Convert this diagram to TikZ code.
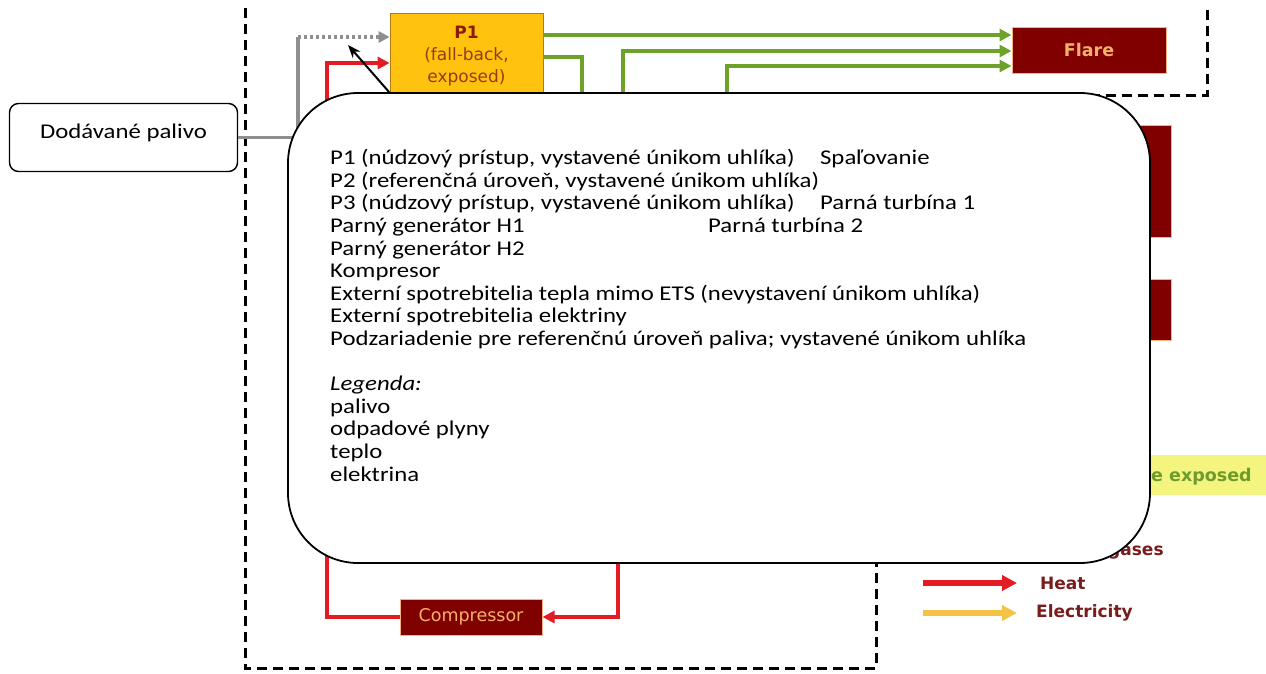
\documentclass[tikz,border=0pt]{standalone}
\usepackage{fontspec}
\setmainfont{Carlito}
\newfontfamily\notefont{Carlito}[FakeStretch=1.18]
\newfontfamily\flowfont{DejaVu Sans}
\usetikzlibrary{arrows.meta,calc}

\definecolor{flowgreen}{HTML}{6FA22B}
\definecolor{flowred}{HTML}{E31B23}
\definecolor{flowgray}{HTML}{8E8E8E}
\definecolor{flowyellow}{HTML}{F4C247}
\definecolor{boxred}{HTML}{800000}
\definecolor{boxedge}{HTML}{F4B183}
\definecolor{boxtxt}{HTML}{F6B26B}
\definecolor{p1fill}{HTML}{FFC20E}
\definecolor{p1edge}{HTML}{B07A10}
\definecolor{p1dark}{HTML}{8B1A0A}
\definecolor{p1txt}{HTML}{9A3A14}
\definecolor{legtxt}{HTML}{7A1C1C}
\definecolor{hilite}{HTML}{F4F57E}
\definecolor{expgreen}{HTML}{6E9B2E}

\tikzset{
  bound/.style={line width=3pt, dash pattern=on 10pt off 6pt},
  unitbox/.style={draw=boxedge, line width=1pt, fill=boxred, text=boxtxt,
    font=\flowfont\fontsize{17.5}{20}\selectfont, inner sep=0pt},
  p1box/.style={draw=p1edge, line width=0.8pt, fill=p1fill, text=p1txt,
    font=\flowfont\fontsize{17}{22}\selectfont, align=center, inner sep=0pt},
  gline/.style={draw=flowgreen, line width=4.5pt},
  garrow/.style={gline, -{Triangle[length=12pt,width=12pt]}},
  rline/.style={draw=flowred, line width=4.5pt},
  rarrow/.style={rline, -{Triangle[length=12pt,width=12pt]}},
  fuelline/.style={draw=flowgray, line width=3.2pt},
  fueldot/.style={draw=flowgray, line width=3.2pt, dash pattern=on 3pt off 3pt,
    -{Triangle[length=11pt,width=11pt]}},
  legarrow/.style={line width=5.5pt, -{Triangle[length=15pt,width=15pt]}},
  legtext/.style={text=legtxt, font=\flowfont\bfseries\fontsize{17}{20}\selectfont,
    anchor=west, inner sep=0pt},
  notebox/.style={draw=black, line width=1.8pt, fill=white, rounded corners=70pt},
  notetext/.style={font=\notefont\fontsize{21}{22.6}\selectfont, align=left, inner sep=0pt},
  pointer/.style={draw=black, line width=2pt, -{Stealth[length=13pt,width=10pt]}},
  fuelbox/.style={draw=black, line width=1.4pt, fill=white, rounded corners=9pt,
    font=\notefont\fontsize{21}{22.6}\selectfont, text height=16pt, text depth=15pt,
    inner sep=0pt}
}

\begin{document}
\begin{tikzpicture}[x=1pt,y=-1pt]
\useasboundingbox (0,0) rectangle (1266,673);

% levels of the horizontal flows
\coordinate (y35) at (0,35);
\coordinate (y37) at (0,37);
\coordinate (y51) at (0,51);
\coordinate (y57) at (0,57);
\coordinate (y63) at (0,63);
\coordinate (y66) at (0,66);

% system boundaries
\draw[bound] (245,8) -- (245,668) -- (876,668) -- (876,540);
\draw[bound] (1207,10) -- (1207,95) -- (1060,95);

% units
\node[p1box, minimum width=153pt, minimum height=86pt] (p1) at (466.5,56)
  {\textbf{\color{p1dark}P1}\\(fall-back,\\exposed)};
\node[unitbox, minimum width=154pt, minimum height=46pt] (flare) at (1089,50)
  {\bfseries Flare};
\node[unitbox, minimum width=91pt, minimum height=112pt] (sinkA) at (1125.5,181) {};
\node[unitbox, minimum width=91pt, minimum height=61pt] (sinkB) at (1125.5,309.5) {};
\node[unitbox, minimum width=142pt, minimum height=36pt] (comp) at (471,617)
  {Compressor};
\node[fuelbox, minimum width=228pt, minimum height=68pt] (fuel) at (123.5,137.5)
  {Dodávané palivo};

% exposure note on the right
\fill[hilite] (1130,455) rectangle (1266,495);
\node[anchor=west, inner sep=0pt, text=expgreen,
  font=\flowfont\bfseries\fontsize{17.5}{20}\selectfont] (expo) at (1151,477) {e exposed};

% fuel supply
\draw[fuelline] (fuel.east) -| (298,37);
\draw[fueldot] (298,37) -- (p1.west |- y37);

% heat into P1
\draw[rarrow] (327,110) -- (327,63) -- (p1.west |- y63);

% waste gases to the flare
\draw[garrow] (p1.east |- y35) -- (flare.west |- y35);
\draw[gline] (p1.east |- y57) -- (582,57) -- (582,110);
\draw[garrow] (623,110) -- (623,51) -- (flare.west |- y51);
\draw[garrow] (727,110) -- (727,66) -- (flare.west |- y66);

% heat loop through the compressor
\draw[rline] (327,540) |- (comp.west);
\draw[rarrow] (618,540) |- (comp.east);

% legend
\node[legtext] (lgas) at (1108,553) {gases};
\coordinate (lh1) at (923,583);
\coordinate (lh2) at (1017,583);
\coordinate (le1) at (923,613);
\coordinate (le2) at (1017,613);
\draw[legarrow, draw=flowred, fill=flowred] (lh1) -- (lh2);
\draw[legarrow, draw=flowyellow, fill=flowyellow] (le1) -- (le2);
\node[legtext] (lheat) at (1040,583) {Heat};
\node[legtext] (lel) at (1036,613) {Electricity};

% translation note
\node[notebox, minimum width=862pt, minimum height=470pt] (note) at (719,328) {};
\node[notetext, anchor=base west] (notetxt) at (330,481) {%
\makebox[490pt][l]{P1 (núdzový prístup, vystavené únikom uhlíka)}Spaľovanie\\
P2 (referenčná úroveň, vystavené únikom uhlíka)\\
\makebox[490pt][l]{P3 (núdzový prístup, vystavené únikom uhlíka)}Parná turbína 1\\
\makebox[378pt][l]{Parný generátor H1}Parná turbína 2\\
Parný generátor H2\\
Kompresor\\
Externí spotrebitelia tepla mimo ETS (nevystavení únikom uhlíka)\\
Externí spotrebitelia elektriny\\
Podzariadenie pre referenčnú úroveň paliva; vystavené únikom uhlíka\\[22.6pt]
\textit{Legenda:}\\
palivo\\
odpadové plyny\\
teplo\\
elektrina};

% pointer from the note to the fuel line
\coordinate (ptip) at (348,45);
\draw[pointer] ($(note.north west)+(102,0)$) -- (ptip);
\end{tikzpicture}
\end{document}
